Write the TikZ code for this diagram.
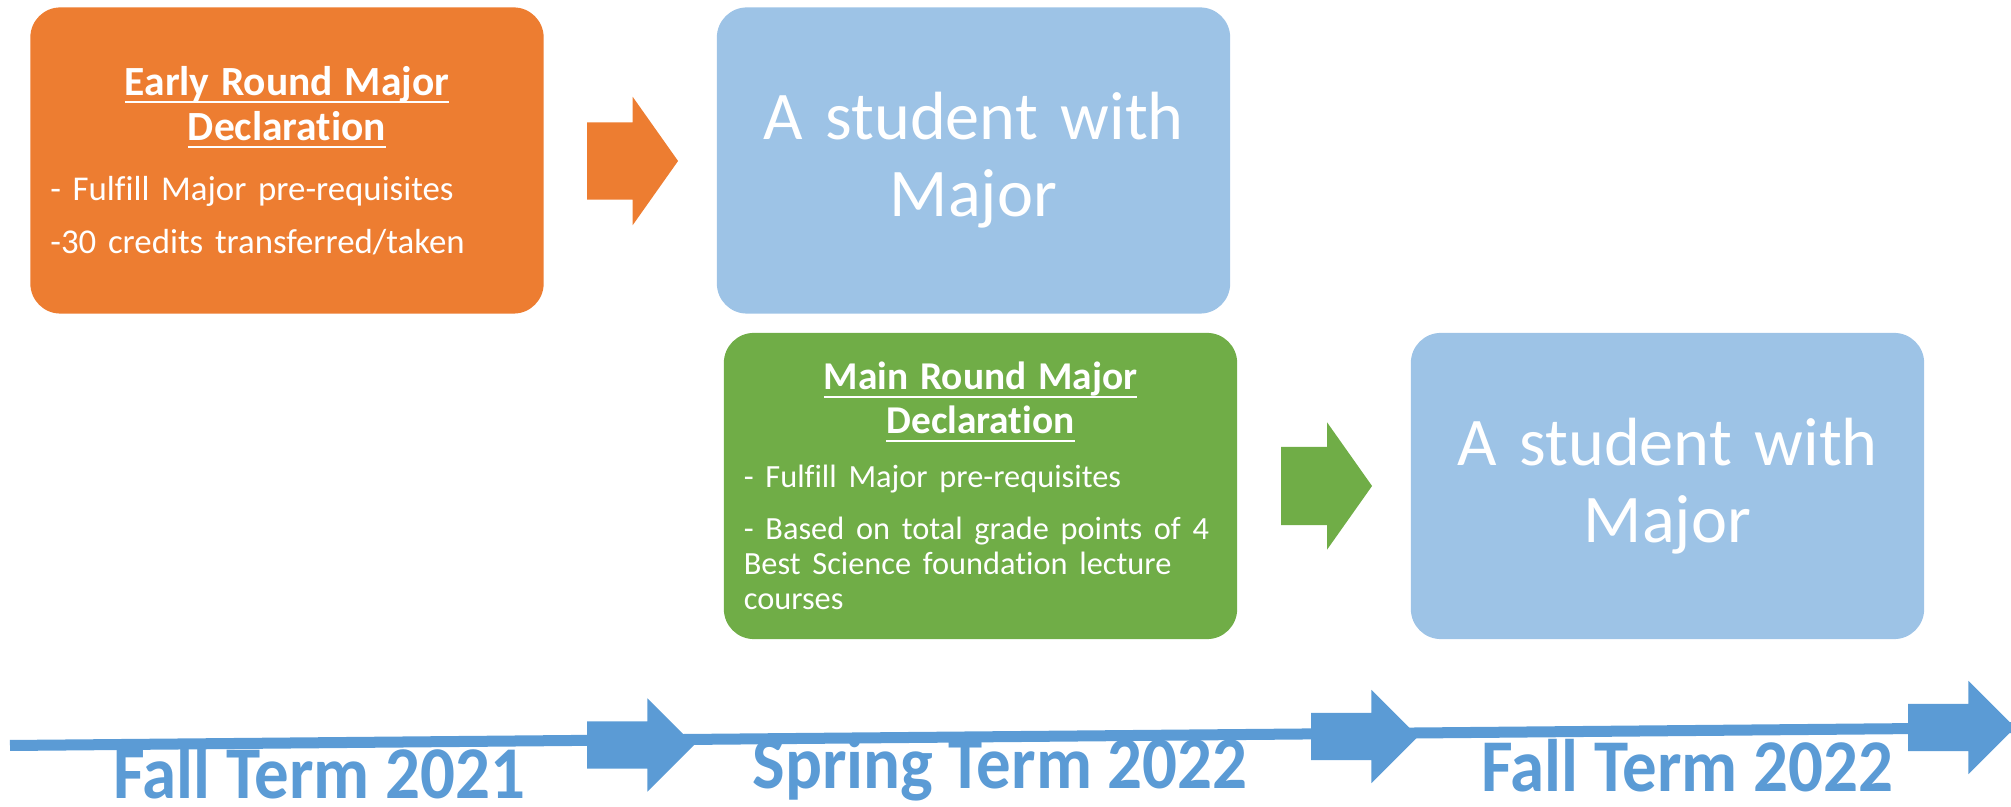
\documentclass[tikz,border=0pt]{standalone}
\usepackage{fontspec}
\setmainfont{Carlito}[Ligatures=NoCommon]
\usepackage{graphicx}
\usepackage{xcolor}
\usepackage{tikz}
\usetikzlibrary{positioning, shapes.arrows}
\definecolor{boxorange}{HTML}{ED7D31}
\definecolor{boxblue}{HTML}{9DC3E6}
\definecolor{boxgreen}{HTML}{70AD47}
\definecolor{lineblue}{HTML}{5B9BD5}
\newsavebox{\headbox}
\newcommand{\headline}[1]{\sbox{\headbox}{#1}\leavevmode
  \rlap{\rule[-2.3pt]{\wd\headbox}{0.6pt}}\usebox{\headbox}}
\newcommand{\termtext}[1]{\scalebox{1}[1.08]{#1}}

\tikzset{
  roundbox/.style={fill=#1, rounded corners=3mm, text=white, inner xsep=2mm,
    minimum width=51.3mm, minimum height=30.6mm, text width=47.3mm, outer sep=0pt},
  blockarrow/.style={single arrow, fill=#1, inner xsep=0pt, outer sep=0pt,
    minimum width=0pt, anchor=tail},
  termarrow/.style={blockarrow=lineblue, minimum height=10.7mm, inner ysep=2.3mm,
    single arrow head extend=2.3mm, single arrow tip angle=90},
  termlabel/.style={text=lineblue, font=\fontsize{19.6pt}{23pt}\selectfont\bfseries,
    anchor=base, inner sep=0pt}
}

\begin{document}
\begin{tikzpicture}[x=0.01cm, y=-0.01cm]
    \useasboundingbox (0,0) rectangle (2011,807);

    \node[roundbox=boxorange, align=left] (early) at (287,160.5) {%
      {\centering\fontsize{11.8pt}{12.8pt}\selectfont\bfseries
       \headline{Early Round Major}\par \headline{Declaration}\par}
      \vspace{2pt}
      {\fontsize{9.9pt}{10pt}\selectfont\setlength{\parskip}{5.1pt}
       - Fulfill Major pre-requisites\par
       -30 credits transferred/taken\par}};

    \node[roundbox=boxblue, align=center, font=\fontsize{19.4pt}{21.9pt}\selectfont]
      (student1) at (973.5,160.5) {A student with\\Major};

    \node[roundbox=boxgreen, align=left] (mainround) at (980.5,486) {%
      {\centering\fontsize{11.2pt}{12.5pt}\selectfont\bfseries
       \headline{Main Round Major}\par \headline{Declaration}\par}
      \vspace{0.8pt}
      {\fontsize{9.2pt}{10pt}\selectfont\setlength{\parskip}{4.55pt}
       - Fulfill Major pre-requisites\par
       - Based on total grade points of 4\\Best Science foundation lecture\\courses\par}};

    \node[roundbox=boxblue, align=center, font=\fontsize{19.4pt}{21.9pt}\selectfont]
      (student2) at (1667.5,486) {A student with\\Major};

    \node[blockarrow=boxorange, minimum height=9.1mm, inner ysep=3.8mm,
      single arrow head extend=2.55mm, single arrow tip angle=109.5] (earlyarrow) at (587,161) {};
    \node[blockarrow=boxgreen, minimum height=9.1mm, inner ysep=3.85mm,
      single arrow head extend=2.45mm, single arrow tip angle=109.5] (mainarrow) at (1281,486) {};

    \coordinate (tstart) at (10,745.5);
    \coordinate (tend) at (2011,727.7);
    \draw[lineblue, line width=1.1mm] (tstart) -- (tend);

    \node[termarrow] (term1) at (587,745) {};
    \node[termarrow] (term2) at (1311,736.5) {};
    \node[termarrow] (term3) at (1908,727.5) {};

    \node[termlabel] (fall21) at (319,799) {\termtext{Fall Term 2021}};
    \node[termlabel] (spring22) at (1000,789) {\termtext{Spring Term 2022}};
    \node[termlabel] (fall22) at (1687,792) {\termtext{Fall Term 2022}};
  \end{tikzpicture}
\end{document}
